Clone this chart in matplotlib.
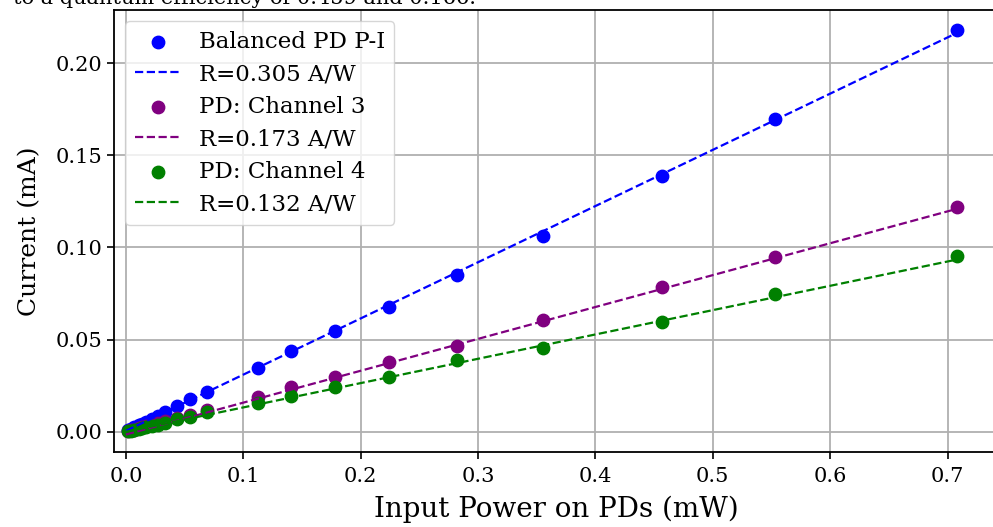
import numpy as np
import matplotlib
matplotlib.use("Agg")
import matplotlib.pyplot as plt

plt.rcParams["font.family"] = ["DejaVu Serif"]
plt.rcParams["mathtext.fontset"] = "dejavuserif"

# input power on the PDs (mW)
power_mw = [0.708, 0.553, 0.457, 0.355, 0.282, 0.224, 0.178, 0.141, 0.1125,
            0.0693, 0.0549, 0.0438, 0.0335, 0.0275, 0.0219, 0.0174, 0.0138,
            0.0110, 0.0069, 0.0044, 0.0020]

# measured photocurrents (mA)
i_balanced = [0.2181, 0.1699, 0.1390, 0.1062, 0.0850, 0.0679, 0.0548, 0.0438,
              0.0348, 0.0214, 0.0178, 0.0138, 0.0105, 0.0086, 0.0069, 0.0055,
              0.0044, 0.0035, 0.0023, 0.0015, 0.0008]
i_ch3 = [0.1221, 0.0947, 0.0787, 0.0605, 0.0465, 0.0377, 0.0299, 0.0241,
         0.0190, 0.0118, 0.0093, 0.0074, 0.0057, 0.0047, 0.0037, 0.0030,
         0.0024, 0.0019, 0.0012, 0.0008, 0.0004]
i_ch4 = [0.0952, 0.0748, 0.0597, 0.0453, 0.0389, 0.0299, 0.0244, 0.0195,
         0.0154, 0.0105, 0.0081, 0.0067, 0.0049, 0.0039, 0.0031, 0.0024,
         0.0019, 0.0015, 0.0009, 0.0006, 0.0003]

labels = ["Balanced PD P-I", "PD: Channel 3", "PD: Channel 4"]
resp = [0.305, 0.173, 0.132]      # fitted responsivity (A/W)
offset = [0.0005, -0.0015, 0.0]   # fit intercepts (mA)
colors = ["blue", "purple", "green"]

fig = plt.figure(figsize=(9.93, 5.27), dpi=100)
ax = fig.add_axes([114 / 993, 1 - 452 / 527, 884 / 993, 442 / 527])

x = np.array(power_mw)
x_fit = np.array([0.0, x.max()])
for ys, lab, r, b, c in zip([i_balanced, i_ch3, i_ch4], labels, resp, offset, colors):
    ax.scatter(x, ys, s=80, color=c, label=lab)
    ax.plot(x_fit, r * x_fit + b, "--", color=c, lw=1.6, label=f"R={r:.3f} A/W")

ax.set_xlim(-0.0102, 0.743)
ax.set_ylim(-0.011, 0.2289)
ax.set_xticks(np.arange(0, 0.71, 0.1))
ax.set_yticks(np.arange(0, 0.201, 0.05))
ax.xaxis.set_major_formatter(matplotlib.ticker.FormatStrFormatter("%.1f"))
ax.yaxis.set_major_formatter(matplotlib.ticker.FormatStrFormatter("%.2f"))
ax.grid(True, color="#b0b0b0", lw=1.3)
ax.set_axisbelow(True)
ax.tick_params(axis="both", labelsize=15, length=5, width=1.2)
ax.tick_params(axis="x", pad=6)
for sp in ax.spines.values():
    sp.set_linewidth(1.3)

ax.set_xlabel("Input Power on PDs (mW)", fontsize=20, labelpad=7)
ax.set_ylabel("Current (mA)", fontsize=18, labelpad=10)
ax.legend(loc="upper left", fontsize=16.5, borderaxespad=0.5,
          labelspacing=0.46, handletextpad=0.8)

fig.text(13 / 993, 1 - 4 / 527, "to a quantum efficiency of 0.459 and 0.166.",
         fontsize=15, ha="left", va="baseline")

fig.savefig("out.png", dpi=100)
